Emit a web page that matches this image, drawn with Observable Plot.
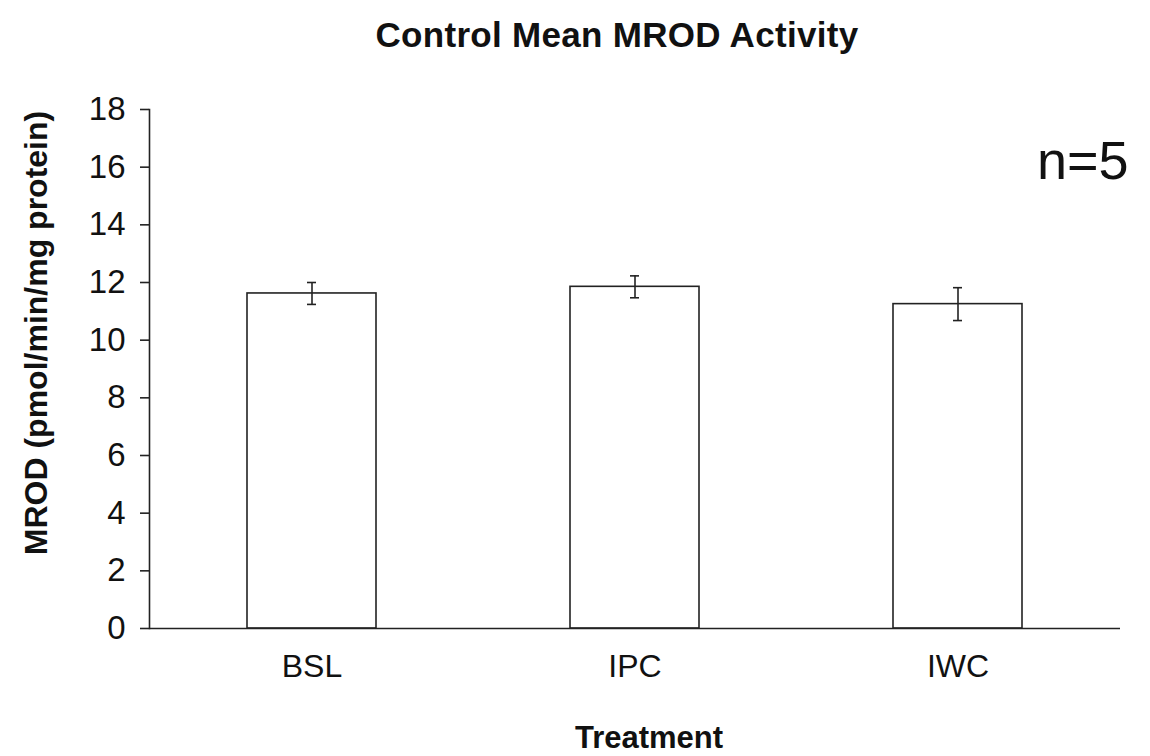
<!DOCTYPE html>
<html>
<head>
<meta charset="utf-8">
<script src="https://cdn.jsdelivr.net/npm/d3@7"></script>
<script src="https://cdn.jsdelivr.net/npm/@observablehq/plot@0.6"></script>
<style>
  html, body { margin: 0; padding: 0; background: #ffffff; }
  #wrap { width: 1150px; font-family: "Liberation Sans", Arial, sans-serif; }
  #title { height: 70px; line-height: 70px; font-size: 35px; font-weight: bold; color: #111; width: 1150px; text-align: center; box-sizing: border-box; padding-left: 84px; letter-spacing: 0.3px; }
</style>
</head>
<body>
<div id="wrap">
  <div id="title">Control Mean MROD Activity</div>
  <div id="chart"></div>
</div>
<script>
const categories = ["BSL", "IPC", "IWC"];
const means = [11.62, 11.85, 11.25];
const errors = [0.38, 0.38, 0.57];
const yTicks = [0, 2, 4, 6, 8, 10, 12, 14, 16, 18];
const yLabel = ["MROD (pmol/min/mg protein)"];
const xLabel = ["Treatment"];
const annotation = ["n=5"];

const data = categories.map((c, i) => ({treatment: c, mean: means[i], err: errors[i]}));

const ink = "#222";
const chart = Plot.plot({
  width: 1150,
  height: 686,
  marginLeft: 149,
  marginRight: 30,
  marginTop: 39,
  marginBottom: 128,
  style: {fontFamily: "Liberation Sans, Arial, sans-serif", color: ink, background: "transparent"},
  x: {domain: categories, paddingInner: 0.6, paddingOuter: 0.3, align: 0.5},
  y: {domain: [0, 18]},
  marks: [
    Plot.barY(data, {x: "treatment", y: "mean", fill: "white", stroke: ink, strokeWidth: 1.6}),
    Plot.ruleX(data, {x: "treatment", y1: d => d.mean - d.err, y2: d => d.mean + d.err, stroke: ink, strokeWidth: 1.6}),
    Plot.tickY(data, {x: "treatment", y: d => d.mean + d.err, stroke: ink, strokeWidth: 1.6, insetLeft: 60, insetRight: 60}),
    Plot.tickY(data, {x: "treatment", y: d => d.mean - d.err, stroke: ink, strokeWidth: 1.6, insetLeft: 60, insetRight: 60}),
    Plot.ruleY([0], {stroke: ink, strokeWidth: 1.6}),
    Plot.frame({anchor: "left", stroke: ink, strokeWidth: 1.6}),
    Plot.axisY({ticks: yTicks, tickSize: 9, tickPadding: 15, fontSize: 33, stroke: ink, strokeWidth: 1.6, fill: "#111", label: null}),
    Plot.axisX({tickSize: 0, tickPadding: 26, fontSize: 32, fill: "#111", label: null}),
    Plot.text(yLabel, {text: d => d, frameAnchor: "left", rotate: -90, textAnchor: "middle", lineAnchor: "middle", dx: -113, dy: -36, fontSize: 32, fontWeight: "bold", fill: "#111"}),
    Plot.text(xLabel, {text: d => d, frameAnchor: "bottom", textAnchor: "middle", lineAnchor: "top", dx: 14, dy: 97, fontSize: 31, fontWeight: "bold", fill: "#111"}),
    Plot.text(annotation, {text: d => d, frameAnchor: "top-right", textAnchor: "end", lineAnchor: "top", dx: 8, dy: 31, fontSize: 54, fill: "#111"})
  ]
});
document.getElementById("chart").appendChild(chart);
</script>
</body>
</html>
